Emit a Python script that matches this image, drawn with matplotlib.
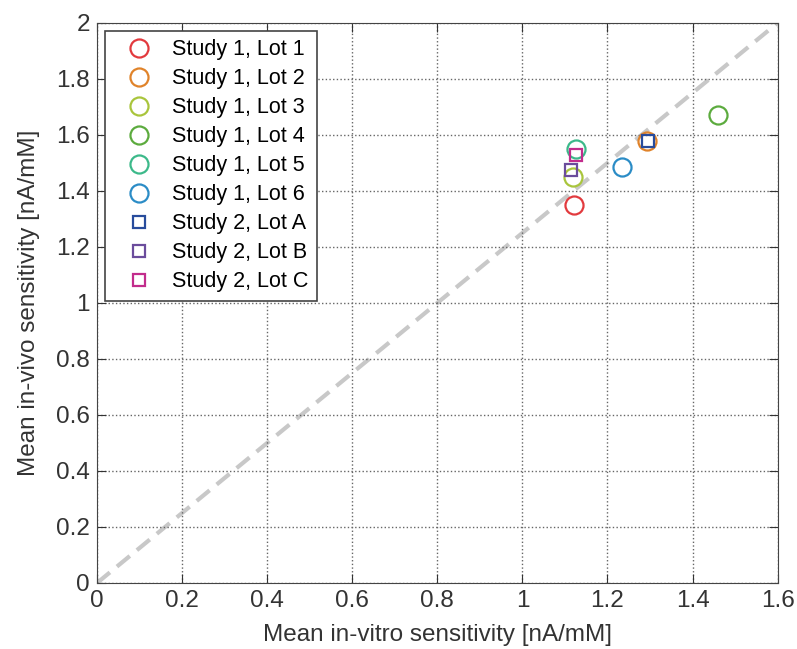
import matplotlib
matplotlib.use('Agg')
import matplotlib.pyplot as plt

plt.rcParams['font.family'] = ['Liberation Sans', 'DejaVu Sans']

# study 1 lots (circles) and study 2 lots (squares)
labels = ['Study 1, Lot 1', 'Study 1, Lot 2', 'Study 1, Lot 3', 'Study 1, Lot 4',
          'Study 1, Lot 5', 'Study 1, Lot 6', 'Study 2, Lot A', 'Study 2, Lot B',
          'Study 2, Lot C']
in_vitro = [1.122, 1.294, 1.118, 1.460, 1.127, 1.235, 1.295, 1.115, 1.127]
in_vivo = [1.350, 1.578, 1.449, 1.672, 1.550, 1.485, 1.578, 1.474, 1.530]
markers = ['o', 'o', 'o', 'o', 'o', 'o', 's', 's', 's']
colors = ['#e23a3e', '#e0832a', '#a9c53c', '#5cab3e', '#3cb98a', '#2b8cc6',
          '#284c9c', '#6b4c9c', '#c22c8c']

fig = plt.figure(figsize=(7.97, 6.49), dpi=100)
ax = fig.add_axes([0.1217, 0.1017, 0.854, 0.863])

ax.plot([0, 1.6], [0, 2], linestyle='--', color='#c8c8c8', linewidth=3,
        dashes=(4, 2.2), zorder=1)

for x, y, m, c, lab in zip(in_vitro, in_vivo, markers, colors, labels):
    size = 13 if m == 'o' else 9
    ax.plot(x, y, linestyle='none', marker=m, markersize=size,
            markerfacecolor='none', markeredgecolor=c, markeredgewidth=1.6,
            label=lab, zorder=3)

ax.set_xlim(0, 1.6)
ax.set_ylim(0, 2)
ax.set_xticks([0, 0.2, 0.4, 0.6, 0.8, 1, 1.2, 1.4, 1.6])
ax.set_yticks([0, 0.2, 0.4, 0.6, 0.8, 1, 1.2, 1.4, 1.6, 1.8, 2])
ax.set_xticklabels(['0', '0.2', '0.4', '0.6', '0.8', '1', '1.2', '1.4', '1.6'])
ax.set_yticklabels(['0', '0.2', '0.4', '0.6', '0.8', '1', '1.2', '1.4', '1.6', '1.8', '2'])
ax.tick_params(direction='in', top=True, right=True, labelsize=17.5,
               length=6.5, pad=5, colors='#333333')
ax.grid(True, linestyle=':', color='#666666', linewidth=1)
for s in ax.spines.values():
    s.set_color('#444444')

ax.set_xlabel('Mean in-vitro sensitivity [nA/mM]', fontsize=17.5, color='#333333',
              labelpad=9)
ax.set_ylabel('Mean in-vivo sensitivity [nA/mM]', fontsize=17.5, color='#333333',
              labelpad=12)

leg = ax.legend(loc='upper left', fontsize=15.5, fancybox=False, framealpha=1,
                edgecolor='#444444', borderaxespad=0.37, labelspacing=0.37,
                handletextpad=0.3, handlelength=2.4, borderpad=0.4)
leg.get_frame().set_linewidth(1.2)

plt.savefig('out.png', dpi=100)
